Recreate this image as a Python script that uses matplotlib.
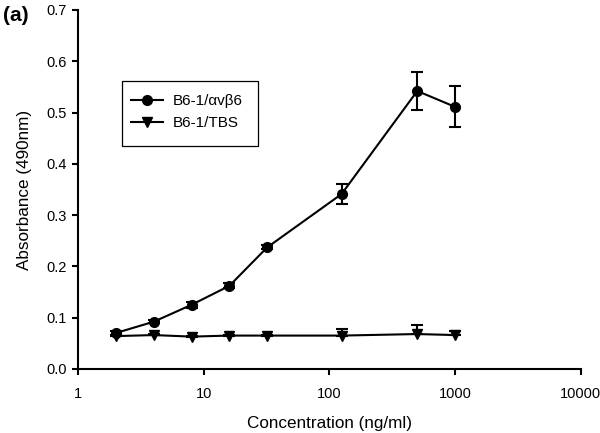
import matplotlib
matplotlib.use("Agg")
import matplotlib.pyplot as plt
from matplotlib.ticker import FixedLocator, FuncFormatter
from matplotlib.lines import Line2D
from matplotlib.patches import Rectangle

plt.rcParams['font.family'] = ['Liberation Sans', 'DejaVu Sans']

conc = [2, 4, 8, 16, 32, 125, 500, 1000]
avb6 = [0.070, 0.092, 0.125, 0.162, 0.237, 0.341, 0.542, 0.511]
avb6_err = [0.003, 0.003, 0.006, 0.005, 0.004, 0.020, 0.037, 0.040]
tbs = [0.064, 0.066, 0.063, 0.065, 0.065, 0.065, 0.068, 0.066]
tbs_err = [0.002, 0.002, 0.002, 0.002, 0.002, 0.013, 0.017, 0.008]
labels = ["B6-1/\u03b1v\u03b26", "B6-1/TBS"]
xticks = [1, 10, 100, 1000, 10000]
yticks = [0.0, 0.1, 0.2, 0.3, 0.4, 0.5, 0.6, 0.7]

fig = plt.figure(figsize=(6, 4.33), dpi=100)
ax = fig.add_axes([0.13, 0.148, 0.838, 0.829])

ax.errorbar(conc, avb6, yerr=avb6_err, color='black', marker='o', markersize=7,
            linewidth=1.5, capsize=4, capthick=1.5, elinewidth=1.5)
ax.errorbar(conc, tbs, yerr=[[0] * len(tbs_err), tbs_err], color='black', marker='v',
            markersize=7.5, linewidth=1.5, capsize=4, capthick=1.5, elinewidth=1.5)

ax.set_xscale('log')
ax.set_xlim(1, 10000)
ax.set_ylim(0, 0.7)
ax.xaxis.set_major_locator(FixedLocator(xticks))
ax.xaxis.set_minor_locator(FixedLocator([]))
ax.xaxis.set_major_formatter(FuncFormatter(lambda v, p: f"{int(round(v))}"))
ax.set_yticks(yticks)
ax.yaxis.set_major_formatter(FuncFormatter(lambda v, p: f"{v:.1f}"))

for s in ['top', 'right']:
    ax.spines[s].set_visible(False)
for s in ['left', 'bottom']:
    ax.spines[s].set_linewidth(1.5)
ax.tick_params(direction='out', length=4, width=1.5, labelsize=10.5, pad=4)
ax.tick_params(axis='x', pad=9)

ax.set_xlabel("Concentration (ng/ml)", fontsize=12.3, labelpad=11)
ax.set_ylabel("Absorbance (490nm)", fontsize=12.3, labelpad=10)

handles = [Line2D([], [], color='black', marker='o', markersize=7, linewidth=1.5),
           Line2D([], [], color='black', marker='v', markersize=7.5, linewidth=1.5)]
leg = fig.legend(handles, labels, loc='upper left',
                 bbox_to_anchor=(131 / 600, 1 - 94 / 433), bbox_transform=fig.transFigure,
                 fontsize=11, frameon=False, handlelength=2.1, borderpad=0,
                 borderaxespad=0, labelspacing=0.55, handletextpad=0.6)
fig.add_artist(Rectangle((122 / 600, 1 - 146 / 433), 136 / 600, 65 / 433,
                         transform=fig.transFigure, fill=False, edgecolor='black',
                         linewidth=0.9))

fig.text(0.005, 0.965, "(a)", fontsize=15, fontweight='bold', va='center')

fig.savefig("out.png", dpi=100)
